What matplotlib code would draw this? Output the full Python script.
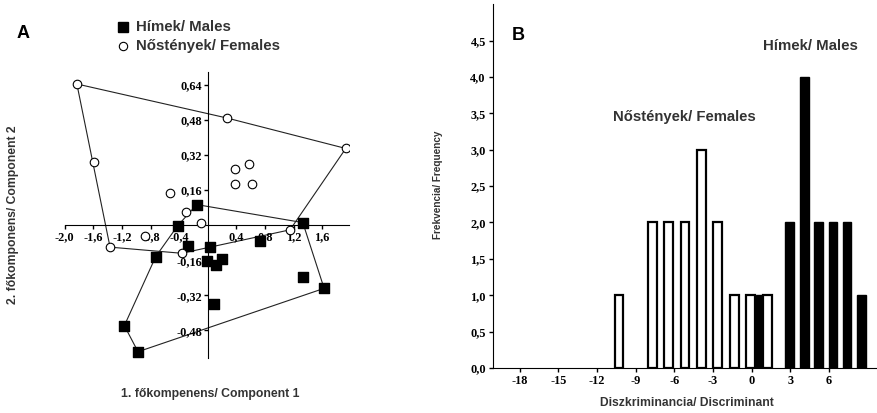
"""
Two-panel figure: PCA scatter with convex hulls (A) and discriminant histogram (B).
"""

import matplotlib
matplotlib.use("Agg")
import matplotlib.pyplot as plt
from matplotlib.ticker import FuncFormatter

# --- Panel A: principal component scores --------------------------------
male_pc1 = [-0.154, -0.42, 1.329, -0.271, 0.032, 0.731, -0.727, -0.014,
            0.116, 0.196, 1.329, 1.627, 0.084, -1.166, -0.975]
male_pc2 = [0.094, -0.002, 0.012, -0.093, -0.098, -0.07, -0.143, -0.163,
            -0.181, -0.154, -0.236, -0.288, -0.359, -0.458, -0.577]

female_pc1 = [-1.83, 0.266, 1.93, -1.586, 0.382, 0.582, 0.382, 0.615,
              -0.527, -0.303, -0.09, 1.151, -0.877, -1.366, -0.364]
female_pc2 = [0.644, 0.489, 0.35, 0.288, 0.257, 0.28, 0.19, 0.19,
              0.149, 0.062, 0.012, -0.021, -0.049, -0.1, -0.128]

# hull vertex indices (into the lists above), in drawing order
male_hull = [0, 2, 11, 14, 13, 6, 1, 0]
female_hull = [0, 1, 2, 11, 14, 13, 0]

# --- Panel B: discriminant score histogram ------------------------------
female_bins = [-10.3, -7.7, -6.44, -5.17, -3.86, -2.63, -1.34, -0.09, 1.24]
female_freq = [1, 2, 2, 2, 3, 2, 1, 1, 1]
male_bins = [0.67, 2.96, 4.13, 5.2, 6.32, 7.42, 8.52]
male_freq = [1, 2, 4, 2, 2, 2, 1]

TEXT_GREY = "#333333"
SANS = "Liberation Sans"


def comma(fmt):
    return FuncFormatter(lambda v, _: format(v, fmt).replace(".", ","))


def style_ticks(ax, size=8.8):
    for lab in ax.get_xticklabels() + ax.get_yticklabels():
        lab.set_fontfamily("Liberation Serif")
        lab.set_fontweight("bold")
        lab.set_fontsize(size)


def fig_text(x_px, y_px, s, **kw):
    """Place text using pixel coords measured from the top-left."""
    fig.text(x_px / 878, 1 - y_px / 413, s, va="center", family=SANS,
             fontweight="bold", **kw)


fig = plt.figure(figsize=(8.78, 4.13), dpi=100)

# ---------------- A ----------------
ax = fig.add_axes([0.0737, 0.1324, 0.3242, 0.694])
ax.set_xlim(-2.0, 1.98)
ax.set_ylim(-0.607, 0.70)
for side in ("top", "right"):
    ax.spines[side].set_visible(False)
ax.spines["left"].set_position(("data", 0))
ax.spines["bottom"].set_position(("data", 0))

ax.plot([male_pc1[i] for i in male_hull], [male_pc2[i] for i in male_hull],
        color="#222222", lw=0.8, zorder=1)
ax.plot([female_pc1[i] for i in female_hull], [female_pc2[i] for i in female_hull],
        color="#222222", lw=0.8, zorder=1)
ax.scatter(male_pc1, male_pc2, marker="s", s=42, color="black", zorder=3)
ax.scatter(female_pc1, female_pc2, marker="o", s=38, facecolor="white",
           edgecolor="black", linewidth=0.8, zorder=3)

ax.set_xticks([-2.0, -1.6, -1.2, -0.8, -0.4, 0.4, 0.8, 1.2, 1.6])
ax.set_yticks([-0.48, -0.32, -0.16, 0.16, 0.32, 0.48, 0.64])
ax.xaxis.set_major_formatter(comma(".1f"))
ax.yaxis.set_major_formatter(comma(".2f"))
ax.tick_params(direction="out", length=3, width=1, pad=1)
style_ticks(ax)

fig_text(23, 33, "A", ha="center", fontsize=13)
fig_text(13, 215, "2. főkomponens/ Component 2", rotation=90, ha="center",
         color=TEXT_GREY, fontsize=8.7)
fig_text(210, 394, "1. főkompenens/ Component 1", ha="center",
         color=TEXT_GREY, fontsize=8.8)

# legend drawn as markers + text in figure coords
fig.lines.append(plt.Line2D([123 / 878], [1 - 27 / 413], marker="s", ms=6.5,
                            color="black", transform=fig.transFigure))
fig.lines.append(plt.Line2D([123 / 878], [1 - 46 / 413], marker="o", ms=6,
                            mfc="white", mec="black", mew=0.8,
                            transform=fig.transFigure))
fig_text(136, 27, "Hímek/ Males", ha="left", color=TEXT_GREY, fontsize=10.8)
fig_text(136, 46, "Nőstények/ Females", ha="left", color=TEXT_GREY, fontsize=10.8)

# ---------------- B ----------------
bx = fig.add_axes([0.5612, 0.109, 0.4385, 0.881])
bx.set_xlim(-20.1, 9.8)
bx.set_ylim(0, 5.0)
for side in ("top", "right"):
    bx.spines[side].set_visible(False)

bx.bar(male_bins, male_freq, width=0.66, color="black", edgecolor="black",
       linewidth=1.0, zorder=2)
bx.bar(female_bins, female_freq, width=0.68, color="white", edgecolor="black",
       linewidth=1.6, zorder=3)

bx.set_xticks(range(-18, 7, 3))
bx.set_yticks([i * 0.5 for i in range(10)])
bx.xaxis.set_major_formatter(FuncFormatter(lambda v, _: f"{int(v)}"))
bx.yaxis.set_major_formatter(comma(".1f"))
bx.tick_params(direction="out", length=3, width=1, pad=2)
style_ticks(bx)

fig_text(518, 35, "B", ha="center", fontsize=13)
fig_text(810.7, 46, "Hímek/ Males", ha="center", color=TEXT_GREY, fontsize=10.8)
fig_text(684.3, 116.7, "Nőstények/ Females", ha="center", color=TEXT_GREY,
         fontsize=10.7)
fig_text(438, 185, "Frekvencia/ Frequency", rotation=90, ha="center",
         color=TEXT_GREY, fontsize=7.2)
fig_text(686.7, 403.3, "Diszkriminancia/ Discriminant", ha="center",
         color=TEXT_GREY, fontsize=8.7)

fig.savefig("out.png", dpi=100)
